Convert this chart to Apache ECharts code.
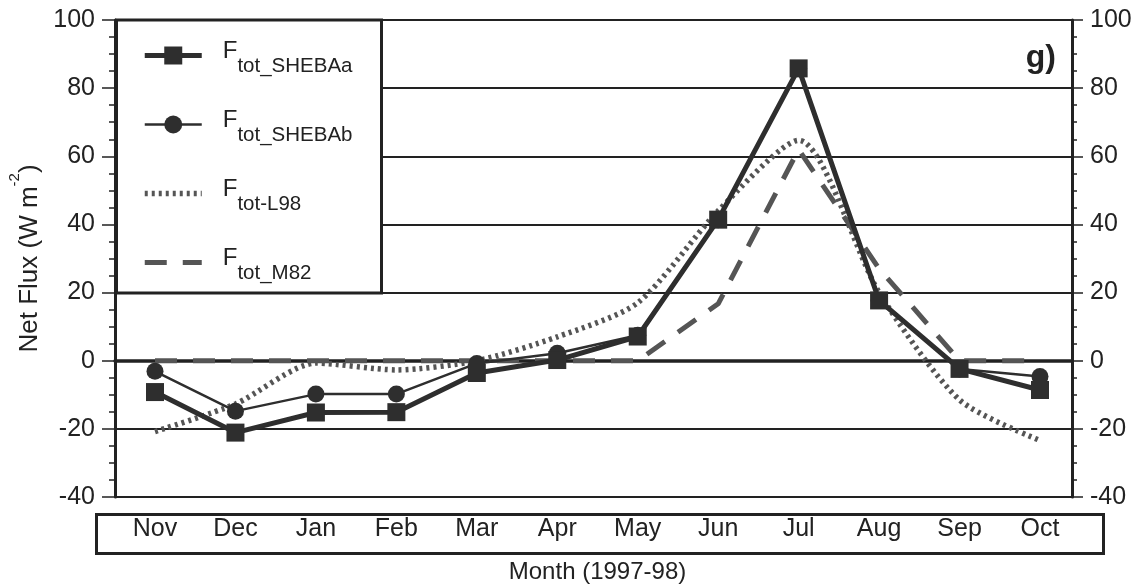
<!DOCTYPE html>
<html>
<head>
<meta charset="utf-8">
<script src="https://cdn.jsdelivr.net/npm/echarts@6/dist/echarts.min.js"></script>
<style>
html,body{margin:0;padding:0;background:#fff;}
#chart{width:1138px;height:585px;}
</style>
</head>
<body>
<div id="chart"></div>
<script>
// ---- data ----
var months = ['Nov','Dec','Jan','Feb','Mar','Apr','May','Jun','Jul','Aug','Sep','Oct'];
var seriesNames = ['F_tot_SHEBAa','F_tot_SHEBAb','F_tot-L98','F_tot_M82'];
var legendSubs = ['tot_SHEBAa','tot_SHEBAb','tot-L98','tot_M82'];
var shebaA = [-9.2, -21.1, -15.2, -15.1, -3.6, 0.2, 7.1, 41.4, 85.8, 17.7, -2.4, -8.6];
var shebaB = [-3.1, -14.8, -9.8, -9.8, -0.8, 2.2, 7.5, 41.4, 85.8, 17.7, -2.4, -4.6];
var l98    = [-20.8, -12.7, -0.7, -2.7, 0, 7, 17, 44, 64.7, 20, -11.5, -23.4];
var m82    = [0, 0, 0, 0, 0, 0, 0, 16.7, 62, 27, 0, 0];
var yMin = -40, yMax = 100, yStep = 20;

var FONT = 'Liberation Sans, Arial, Helvetica, sans-serif';
var INK = '#222';
var DARK = '#2e2e2e';
var GREY = '#555';
var DOT = [3, 4];
var DASH = [22, 16];

var chart = echarts.init(document.getElementById('chart'), null, {renderer: 'canvas'});

function yAxisCommon(extra) {
  var base = {
    type: 'value', min: yMin, max: yMax, interval: yStep,
    axisLine: {show: true, lineStyle: {color: INK, width: 3}},
    axisTick: {show: true, length: 13, lineStyle: {color: INK, width: 1.5}},
    minorTick: {show: true, splitNumber: 4, length: 6, lineStyle: {color: INK, width: 1.5}},
    minorSplitLine: {show: false},
    axisLabel: {color: INK, fontSize: 25, fontFamily: FONT, margin: 20},
    splitLine: {show: false}
  };
  for (var k in extra) base[k] = extra[k];
  return base;
}

var option = {
  animation: false,
  backgroundColor: '#fff',
  textStyle: {fontFamily: FONT},
  grid: [
    {left: 115, right: 66, top: 20, bottom: 88, containLabel: false, outerBoundsMode: 'none'},
    {left: 155, right: 98, top: 20, bottom: 88, containLabel: false, outerBoundsMode: 'none'}
  ],
  xAxis: [
    {
      gridIndex: 0, type: 'value', min: 0, max: 1, interval: 1,
      axisLine: {show: true, lineStyle: {color: INK, width: 3.5}},
      axisTick: {show: true, length: 12, lineStyle: {color: INK, width: 2}},
      axisLabel: {show: false},
      splitLine: {show: false}
    },
    {
      gridIndex: 1, type: 'category', data: months, boundaryGap: false,
      axisLine: {show: false}, axisTick: {show: false},
      axisLabel: {color: INK, fontSize: 25, fontFamily: FONT, margin: 20},
      splitLine: {show: false},
      name: 'Month (1997-98)', nameLocation: 'middle', nameGap: 63,
      nameTextStyle: {color: INK, fontSize: 24, fontFamily: FONT}
    }
  ],
  yAxis: [
    yAxisCommon({
      gridIndex: 0, position: 'left',
      splitLine: {show: true, lineStyle: {color: INK, width: 2}},
      name: '{a|Net Flux (W m}{sup|-2}{a|)}',
      nameLocation: 'middle', nameGap: 70, nameRotate: 90,
      nameTextStyle: {
        color: INK, fontFamily: FONT,
        rich: {
          a: {fontSize: 26, lineHeight: 26, padding: [9, 0, 0, 0], color: INK, fontFamily: FONT},
          sup: {fontSize: 15, lineHeight: 15, padding: [0, 0, 20, 0], color: INK, fontFamily: FONT}
        }
      }
    }),
    yAxisCommon({
      gridIndex: 0, position: 'right',
      axisTick: {show: true, length: 11, lineStyle: {color: INK, width: 1.5}},
      minorTick: {show: true, splitNumber: 4, length: 5, lineStyle: {color: INK, width: 1.5}},
      axisLabel: {color: INK, fontSize: 25, fontFamily: FONT, margin: 18}
    }),
    {gridIndex: 1, type: 'value', min: yMin, max: yMax, interval: yStep, show: false, splitLine: {show: false}}
  ],
  legend: {
    left: 142, top: 34, orient: 'vertical', padding: 0,
    itemWidth: 57, itemHeight: 22.5, itemGap: 26,
    selectedMode: false,
    data: [
      {name: seriesNames[0], lineStyle: {width: 5, color: DARK}},
      {name: seriesNames[1], lineStyle: {width: 2.5, color: DARK}},
      {name: seriesNames[2], lineStyle: {width: 5.5, color: GREY, type: DOT},
       itemStyle: {color: 'rgba(0,0,0,0)', borderWidth: 0}},
      {name: seriesNames[3], lineStyle: {width: 5, color: GREY, type: DASH},
       itemStyle: {color: 'rgba(0,0,0,0)', borderWidth: 0}}
    ],
    formatter: function (name) {
      var i = seriesNames.indexOf(name);
      return '{f|F}{s|' + legendSubs[i] + '}';
    },
    textStyle: {
      color: INK, fontFamily: FONT,
      rich: {
        f: {fontSize: 24, lineHeight: 24, padding: [5, 0, 13, 16], color: INK, fontFamily: FONT},
        s: {fontSize: 20.5, lineHeight: 20, padding: [22, 0, 0, 0], color: INK, fontFamily: FONT}
      }
    }
  },
  graphic: [
    {
      type: 'rect', z: 3,
      shape: {x: 116.5, y: 20, width: 265, height: 273},
      style: {fill: '#fff', stroke: INK, lineWidth: 3}
    },
    {
      type: 'rect', z: 3,
      shape: {x: 96.5, y: 514.5, width: 1007, height: 39},
      style: {fill: 'none', stroke: INK, lineWidth: 3}
    },
    {
      type: 'text', z: 5,
      style: {x: 1056, y: 58, text: 'g)', textAlign: 'right', textVerticalAlign: 'middle',
              font: 'bold 32px ' + FONT, fill: INK}
    }
  ],
  series: [
    {
      name: seriesNames[3], type: 'line', xAxisIndex: 1, yAxisIndex: 2, data: m82,
      symbol: 'none', z: 3,
      lineStyle: {color: GREY, width: 5, type: DASH},
      itemStyle: {color: GREY}
    },
    {
      name: seriesNames[2], type: 'line', xAxisIndex: 1, yAxisIndex: 2, data: l98,
      symbol: 'none', smooth: 0.25, z: 3,
      lineStyle: {color: GREY, width: 5.5, type: DOT},
      itemStyle: {color: GREY}
    },
    {
      name: seriesNames[1], type: 'line', xAxisIndex: 1, yAxisIndex: 2, data: shebaB,
      symbol: 'circle', symbolSize: 17, z: 4,
      lineStyle: {color: DARK, width: 2.5},
      itemStyle: {color: DARK}
    },
    {
      name: seriesNames[0], type: 'line', xAxisIndex: 1, yAxisIndex: 2, data: shebaA,
      symbol: 'rect', symbolSize: 18, z: 5,
      lineStyle: {color: DARK, width: 5},
      itemStyle: {color: DARK}
    }
  ]
};
chart.setOption(option);
</script>
</body>
</html>
